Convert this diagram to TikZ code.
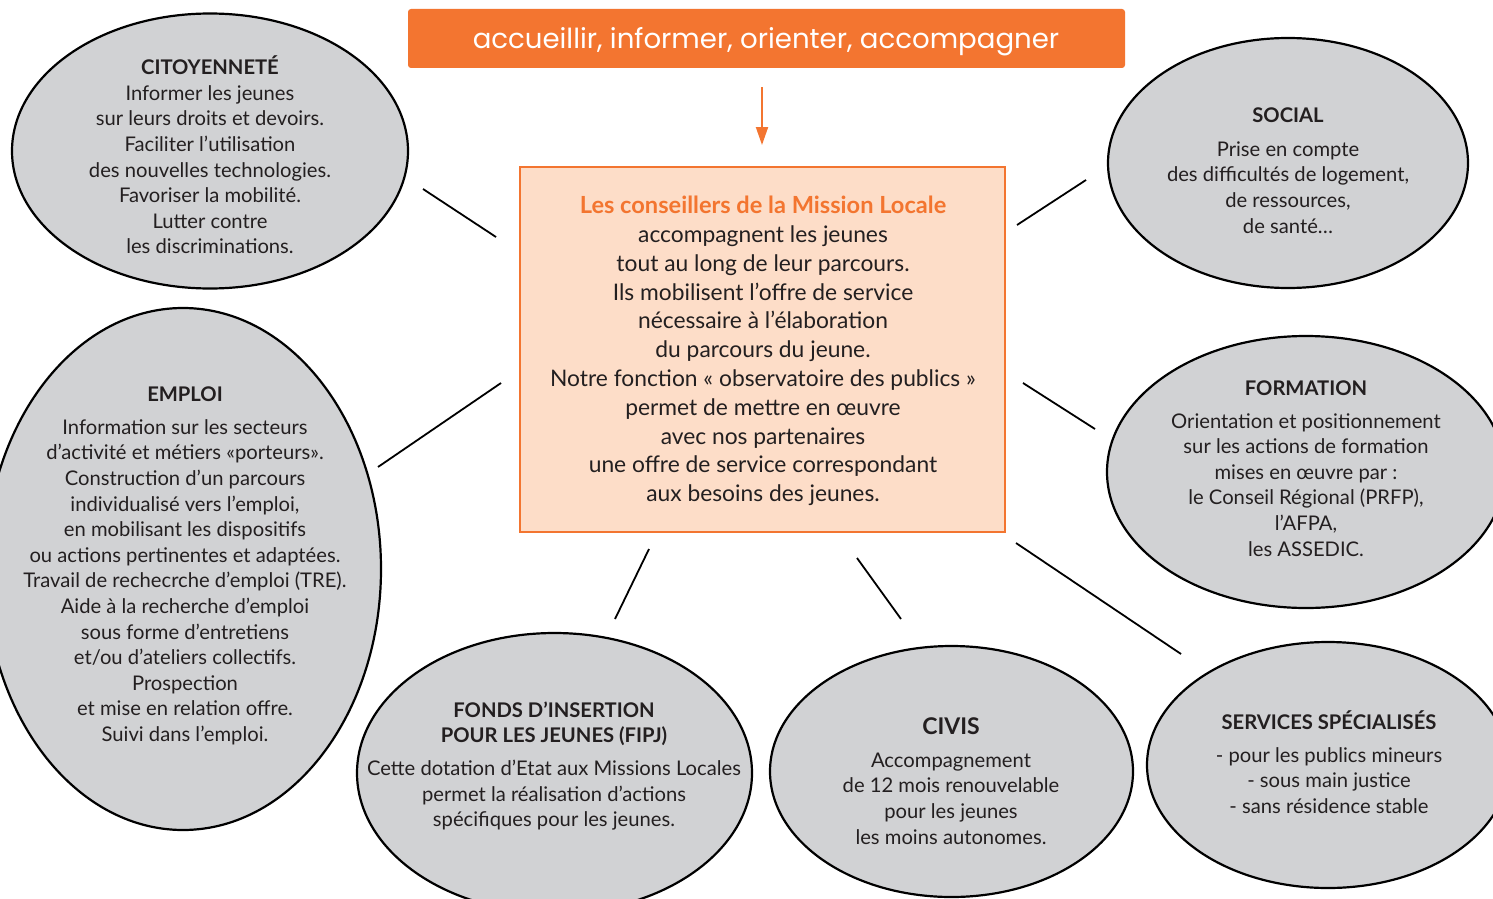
\documentclass[tikz,border=0pt]{standalone}
\usepackage{fontspec}
\setmainfont{Lato}
\newfontfamily\titlefont{Poppins}
\usetikzlibrary{shapes.geometric,arrows.meta}
\definecolor{morange}{HTML}{F37530}
\definecolor{mpeach}{HTML}{FDDDC8}
\definecolor{mgray}{HTML}{D1D2D4}
\definecolor{mtext}{HTML}{231F20}
\begin{document}
\begin{tikzpicture}[x=1pt,y=-1pt,
  bubble/.style={ellipse, draw=black, line width=2.2pt, fill=mgray, inner sep=0pt},
  btext/.style={align=center, text=mtext, font=\fontsize{20.2}{25.6}\selectfont, inner sep=0pt},
  link/.style={line width=1.8pt, draw=black}
]
\path[use as bounding box] (0,0) rectangle (1493,899);
\clip (0,0) rectangle (1493,899);
\fill[white] (0,0) rectangle (1493,899);

% title
\node[fill=morange, rounded corners=3pt, minimum width=717pt, minimum height=59pt, inner sep=0pt] (title) at (766.5,38.5) {};
\node[text=white, font=\titlefont\fontsize{27.6}{30}\selectfont, inner sep=0pt] (titleT) at (766,42)
      {accueillir, informer, orienter, accompagner};

% central box
\node[draw=morange, line width=2pt, fill=mpeach, minimum width=485pt, minimum height=365pt, inner sep=0pt] (box) at (762.5,349.5) {};
\node[align=center, text=mtext, font=\fontsize{22.8}{28.8}\selectfont, inner sep=0pt] (boxT) at (763,351)
{{\color{morange}\bfseries\fontsize{23.6}{28.8}\selectfont Les conseillers de la Mission Locale}\\
accompagnent les jeunes\\
tout au long de leur parcours.\\
Ils mobilisent l’offre de service\\
nécessaire à l’élaboration\\
du parcours du jeune.\\
Notre fonction « observatoire des publics »\\
permet de mettre en œuvre\\
avec nos partenaires\\
une offre de service correspondant\\
aux besoins des jeunes.};

% arrow
\coordinate (arrS) at (762,87);
\coordinate (arrE) at (762,145);
\draw[morange, line width=2pt, -{Triangle[length=18pt,width=12pt]}] (arrS) -- (arrE);

% bubbles
\node[bubble, minimum width=396pt, minimum height=275pt] (cit) at (210,151) {};
\node[bubble, minimum width=360pt, minimum height=250pt] (soc) at (1288,163) {};
\node[bubble, minimum width=396pt, minimum height=522pt] (emp) at (183,569) {};
\node[bubble, minimum width=398pt, minimum height=272pt] (form) at (1306,472) {};
\node[bubble, minimum width=362pt, minimum height=246pt] (serv) at (1328,765) {};
\node[bubble, minimum width=395pt, minimum height=280pt] (fipj) at (554.5,773) {};
\node[bubble, minimum width=363pt, minimum height=251pt] (civis) at (951.5,771.5) {};

% bubble texts
\node[btext] (citT) at (210,155)
{\textbf{CITOYENNETÉ}\\
Informer les jeunes\\
sur leurs droits et devoirs.\\
Faciliter l’utilisation\\
des nouvelles technologies.\\
Favoriser la mobilité.\\
Lutter contre\\
les discriminations.};

\node[btext] (socT) at (1288,170.5)
{\textbf{SOCIAL}\\[8pt]
Prise en compte\\
des difficultés de logement,\\
de ressources,\\
de santé…};

\node[btext] (empT) at (185,566)
{\textbf{EMPLOI}\\[7pt]
Information sur les secteurs\\
d’activité et métiers «porteurs».\\
Construction d’un parcours\\
individualisé vers l’emploi,\\
en mobilisant les dispositifs\\
ou actions pertinentes et adaptées.\\
Travail de rechecrche d’emploi (TRE).\\
Aide à la recherche d’emploi\\
sous forme d’entretiens\\
et/ou d’ateliers collectifs.\\
Prospection\\
et mise en relation offre.\\
Suivi dans l’emploi.};

\node[btext] (formT) at (1306,468.5)
{\textbf{FORMATION}\\[7pt]
Orientation et positionnement\\
sur les actions de formation\\
mises en œuvre par :\\
le Conseil Régional (PRFP),\\
l’AFPA,\\
les ASSEDIC.};

\node[btext] (fipjT) at (554,766)
{\textbf{FONDS D’INSERTION}\\
\textbf{POUR LES JEUNES (FIPJ)}\\[7pt]
Cette dotation d’Etat aux Missions Locales\\
permet la réalisation d’actions\\
spécifiques pour les jeunes.};

\node[btext] (civisT) at (951,781)
{{\fontsize{23}{25.6}\selectfont\bfseries CIVIS}\\[7pt]
Accompagnement\\
de 12 mois renouvelable\\
pour les jeunes\\
les moins autonomes.};

\node[btext] (servT) at (1329,762)
{\textbf{SERVICES SPÉCIALISÉS}\\[7pt]
- pour les publics mineurs\\
- sous main justice\\
- sans résidence stable};

% connectors (free-floating segments between box and bubbles)
\coordinate (c1a) at (423,189);  \coordinate (c1b) at (496,237);
\coordinate (c2a) at (1017,225); \coordinate (c2b) at (1086,180);
\coordinate (c3a) at (378,467);  \coordinate (c3b) at (501,383);
\coordinate (c4a) at (1023,383); \coordinate (c4b) at (1095,429);
\coordinate (c5a) at (649,549);  \coordinate (c5b) at (615,619);
\coordinate (c6a) at (857,558);  \coordinate (c6b) at (901,619);
\coordinate (c7a) at (1016,543); \coordinate (c7b) at (1181,654);
\draw[link] (c1a) -- (c1b);
\draw[link] (c2a) -- (c2b);
\draw[link] (c3a) -- (c3b);
\draw[link] (c4a) -- (c4b);
\draw[link] (c5a) -- (c5b);
\draw[link] (c6a) -- (c6b);
\draw[link] (c7a) -- (c7b);
\end{tikzpicture}
\end{document}
